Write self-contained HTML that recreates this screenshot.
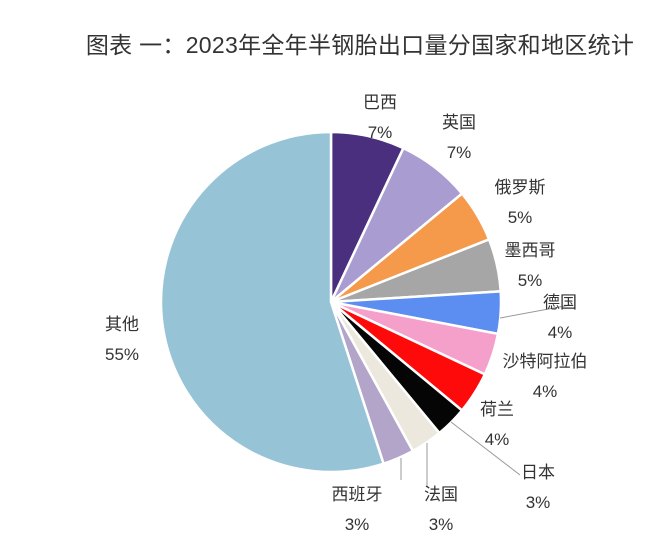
<!DOCTYPE html>
<html><head><meta charset="utf-8"><style>
body{margin:0;background:#fff;width:660px;height:537px;overflow:hidden}
svg text{font-family:"Liberation Sans","Noto Sans CJK SC",sans-serif;fill:#333}
</style></head><body>
<svg width="660" height="537">
<text x="360" y="53" font-size="23" text-anchor="middle" letter-spacing="0.3">图表 一：2023年全年半钢胎出口量分国家和地区统计</text>
<g id="slices"></g>
<g id="labels"></g>
</svg>
<script>
const categories=["巴西","英国","俄罗斯","墨西哥","德国","沙特阿拉伯","荷兰","日本","法国","西班牙","其他"];
const values=[7,7,5,5,4,4,4,3,3,3,55];
const pctLabels=["7%","7%","5%","5%","4%","4%","4%","3%","3%","3%","55%"];
const colors=["#4b2f7f","#a99cd1","#f5994b","#a6a6a6","#5b8ef0","#f59fcb","#ff0a0a","#050505","#ece8dd","#b3a5ca","#96c4d6"];
const labelPos=[[380,108],[459,128],[520,193],[530,256],[560,308],[545,367],[497,415],[538,478],[441,500],[357,500],[122,330]];
const leaders=[null,null,null,null,[500,318,570,305],null,null,[451,422,520,475],[427,443,427,487],[401,458,401,480],null];
const cx=331,cy=302,r=170;
const ns="http://www.w3.org/2000/svg";
const total=values.reduce((a,b)=>a+b,0);
function pt(a,rr){return [cx+rr*Math.sin(a),cy-rr*Math.cos(a)];}
let acc=0;
const gs=document.getElementById('slices'),gl=document.getElementById('labels');
values.forEach((v,i)=>{
  const a0=acc/total*2*Math.PI;acc+=v;const a1=acc/total*2*Math.PI;
  const p0=pt(a0,r),p1=pt(a1,r);
  const p=document.createElementNS(ns,'path');
  p.setAttribute('d',`M${cx},${cy}L${p0[0]},${p0[1]}A${r},${r} 0 ${a1-a0>Math.PI?1:0} 1 ${p1[0]},${p1[1]}Z`);
  p.setAttribute('fill',colors[i]);p.setAttribute('stroke','#fff');p.setAttribute('stroke-width','2.5');
  
  
  gs.appendChild(p);
  if(leaders[i]){const l=document.createElementNS(ns,'line');const c=leaders[i];
    l.setAttribute('x1',c[0]);l.setAttribute('y1',c[1]);l.setAttribute('x2',c[2]);l.setAttribute('y2',c[3]);
    l.setAttribute('stroke','#999');l.setAttribute('stroke-width','1');
    
    
    gl.appendChild(l);}
  const [x,y]=labelPos[i];
  const t1=document.createElementNS(ns,'text');t1.setAttribute('x',x);t1.setAttribute('y',y);
  t1.setAttribute('font-size','17');t1.setAttribute('text-anchor','middle');t1.textContent=categories[i];
  
  
  gl.appendChild(t1);
  const t2=document.createElementNS(ns,'text');t2.setAttribute('x',x);t2.setAttribute('y',y+30);
  t2.setAttribute('font-size','17');t2.setAttribute('text-anchor','middle');t2.textContent=pctLabels[i];
  
  
  gl.appendChild(t2);
});
</script>
</body></html>
